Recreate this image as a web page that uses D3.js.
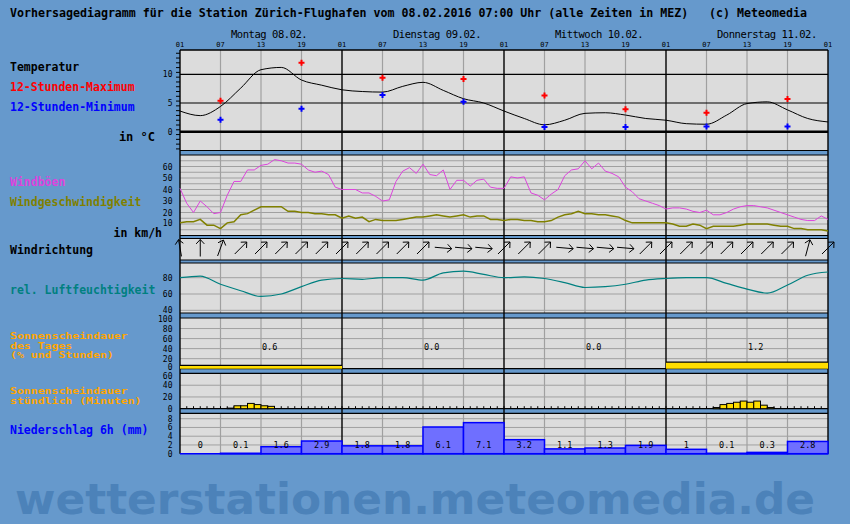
<!DOCTYPE html>
<html>
<head>
<meta charset="utf-8">
<script src="https://cdn.jsdelivr.net/npm/d3@7"></script>
<style>
  body { margin: 0; background: #6699cc; }
  svg { display: block; }
  text { font-family: "DejaVu Sans Mono", monospace; white-space: pre; }
</style>
</head>
<body>
<div id="chart"></div>
<script>
// ---- data (hours counted from 08.02. 01:00) ----
const days = ["Montag 08.02.", "Dienstag 09.02.", "Mittwoch 10.02.", "Donnerstag 11.02."];
const hourLabels = ["01", "07", "13", "19"];

// temperature every 3 hours, °C
const tempHours = d3.range(0, 97, 3);
const temp = [3.6, 2.8, 4.4, 7.6, 10.8, 11.2, 9.0, 8.1, 7.3, 7.0, 6.9, 7.9, 8.6, 7.2, 5.75, 5.0,
              3.6, 2.3, 1.2, 2.0, 3.2, 3.3, 2.9, 2.3, 2.0, 1.4, 1.3, 2.9, 4.9, 5.2, 3.8, 2.3, 1.7];

// 12-hour extremes at 07 and 19
const extremeHours = [6, 18, 30, 42, 54, 66, 78, 90];
const tempMax = [5.4, 12.0, 9.4, 9.2, 6.3, 3.9, 3.3, 5.7];
const tempMin = [2.1, 4.0, 6.4, 5.2, 0.8, 0.8, 0.9, 0.9];

// hourly wind, km/h
const windHours = d3.range(0, 97);
const gusts = [41, 28, 20, 30, 25, 19, 20, 35, 47, 47,
               57, 57, 61, 62, 66, 65, 63, 63, 62, 57,
               55, 56, 53, 42, 40, 40, 40, 37, 37, 34,
               30, 31, 47, 56, 59, 54, 62, 53, 52, 57,
               40, 48, 48, 43, 48, 49, 42, 41, 41, 51,
               50, 51, 37, 35, 31, 36, 40, 52, 57, 58,
               65, 58, 63, 56, 54, 51, 42, 38, 32, 30,
               28, 26, 23, 24, 24, 23, 21, 20, 22, 18,
               18, 20, 23, 25, 26, 26, 25, 24, 22, 20,
               18, 16, 14, 13, 13, 17, 14];
const windSpeed = [11, 12, 12, 14, 9, 9, 6, 11, 12, 18,
                   19, 22, 25, 25, 25, 25, 21, 21, 20, 20,
                   19, 19, 18, 18, 15, 17, 15, 16, 12, 14,
                   13, 13, 13, 14, 15, 16, 16, 17, 18, 17,
                   16, 17, 18, 16, 17, 17, 14, 14, 13, 14,
                   14, 13, 13, 12, 12, 13, 16, 18, 19, 21,
                   19, 19, 18, 18, 17, 16, 13, 11, 11, 11,
                   11, 11, 11, 10, 8, 8, 10, 9, 6, 8,
                   8, 8, 8, 9, 10, 10, 10, 10, 9, 8,
                   8, 6, 6, 5, 5, 5, 4];

// wind direction arrows every 3 hours (degrees the arrow points to, 0 = up)
const dirHours = d3.range(0, 97, 3);
const windDir = [-10, 0, 20, 45, 45, 45, 45, 45, 45, 45, 45, 45, 45, 95, 95, 95, 45,
                 45, 45, 95, 95, 95, 95, 45, 45, 45, 45, 45, 45, 45, 45, 15, 45];

// relative humidity every 3 hours, %
const humHours = d3.range(0, 97, 3);
const humidity = [80, 82, 72, 64, 57, 60, 69, 77, 79, 78, 80, 80, 77, 86, 88, 84,
                  80, 81, 79, 74, 68, 69, 72, 77, 79, 80, 80, 73, 66, 61, 71, 83, 87];

// sunshine per day
const sunDayHours = [0.6, 0.0, 0.0, 1.2];
const sunDayPct = [6.5, 0, 0, 13];

// sunshine per hour, minutes
const sunHours = [7, 8, 9, 10, 11, 12, 13, 79, 80, 81, 82, 83, 84, 85, 86, 87];
const sunMinutes = [1, 5, 5, 9, 7, 5, 4, 2, 7, 9, 11, 13, 11, 13, 6, 2];

// precipitation per 6 hours, mm
const precip = [0, 0.1, 1.6, 2.9, 1.8, 1.8, 6.1, 7.1, 3.2, 1.1, 1.3, 1.9, 1, 0.1, 0.3, 2.8];

// ---- layout ----
const width = 850;
const height = 524;
const left = 180;
const right = 828;
const bg = "#6699cc";
const panelFill = "#dcdcdc";
const gridGray = "#a0a0a0";

// panel boxes [top, bottom], top to bottom
const tempBox = [50, 150.5];
const windBox = [155, 235.5];
const dirBox = [238.5, 260];
const humBox = [263, 313];
const sunDayBox = [318, 368.7];
const sunHourBox = [373.3, 408.7];
const precipBox = [413.3, 453.7];
const boxes = [tempBox, windBox, dirBox, humBox, sunDayBox, sunHourBox, precipBox];

const x = d3.scaleLinear().domain([0, 96]).range([left, right]);
const yT = d3.scaleLinear().domain([0, 10]).range([131.7, 74.3]);
const yW = d3.scaleLinear().domain([0, 70]).range([235.5, 155]);
const yH = d3.scaleLinear().domain([40, 80]).range([310.3, 277.7]);
const ySd = d3.scaleLinear().domain([0, 100]).range([368.7, 318.5]);
const ySh = d3.scaleLinear().domain([0, 60]).range([408.7, 373.5]);
const yP = d3.scaleLinear().domain([0, 8]).range([453.7, 418.7]);

const svg = d3.create("svg")
    .attr("width", width)
    .attr("height", height);

svg.append("rect").attr("width", width).attr("height", height).attr("fill", bg);

// watermark
svg.append("text")
    .attr("x", 15).attr("y", 514)
    .attr("textLength", 800).attr("lengthAdjust", "spacingAndGlyphs")
    .style("font-family", "'DejaVu Sans', sans-serif")
    .style("font-weight", "bold").style("font-size", "42px")
    .attr("fill", "#4c82b9")
    .text("wetterstationen.meteomedia.de");

// title
svg.append("text")
    .attr("x", 10).attr("y", 16.5)
    .attr("textLength", 797).attr("lengthAdjust", "spacingAndGlyphs")
    .style("font-weight", "bold").style("font-size", "11.6px")
    .text("Vorhersagediagramm für die Station Zürich-Flughafen vom 08.02.2016 07:00 Uhr (alle Zeiten in MEZ)   (c) Meteomedia");

// day labels
svg.append("g").selectAll("text")
    .data(days)
    .join("text")
    .attr("x", (d, i) => x(i * 24) + 51)
    .attr("y", 37.5)
    .attr("textLength", d => d.length * 5.9)
    .style("font-size", "10.5px")
    .text(d => d);

// hour labels
svg.append("g").selectAll("text")
    .data(d3.range(0, 97, 6))
    .join("text")
    .attr("x", d => x(d))
    .attr("y", 46.5)
    .attr("text-anchor", "middle")
    .style("font-size", "7px")
    .text(d => hourLabels[(d / 6) % 4]);

// panel background
svg.append("rect")
    .attr("x", left).attr("y", tempBox[0])
    .attr("width", right - left).attr("height", precipBox[1] - tempBox[0])
    .attr("fill", panelFill);

// grey vertical grid inside each panel
const grid = svg.append("g").attr("stroke", gridGray).attr("stroke-width", 1.2);
boxes.forEach(b => {
  grid.append("g").selectAll("line")
      .data(d3.range(6, 96, 6).filter(h => h % 24 !== 0))
      .join("line")
      .attr("x1", d => x(d)).attr("x2", d => x(d))
      .attr("y1", b[0]).attr("y2", b[1]);
});

// horizontal grid lines
function hLines(values, scale, color, w) {
  svg.append("g").selectAll("line")
      .data(values)
      .join("line")
      .attr("x1", left).attr("x2", right)
      .attr("y1", d => scale(d)).attr("y2", d => scale(d))
      .attr("stroke", color).attr("stroke-width", w);
}
hLines(d3.range(5, 70, 5), yW, gridGray, 1);
hLines([40, 60, 80], yH, gridGray, 1);
hLines([20, 40, 60, 80], ySd, gridGray, 1);
hLines([20, 40], ySh, gridGray, 1);
hLines([2, 4, 6, 8], yP, gridGray, 1);
hLines([5, 10], yT, "#000", 1.2);
hLines([0], yT, "#000", 2.5);

// blue separator bands
const bands = svg.append("g");
for (let i = 0; i < boxes.length - 1; i++) {
  const top = boxes[i][1], bottom = boxes[i + 1][0];
  bands.append("rect")
      .attr("x", left).attr("y", top)
      .attr("width", right - left).attr("height", bottom - top)
      .attr("fill", bg);
  bands.append("line").attr("x1", left).attr("x2", right)
      .attr("y1", top).attr("y2", top).attr("stroke", "#000").attr("stroke-width", 1.2);
  bands.append("line").attr("x1", left).attr("x2", right)
      .attr("y1", bottom).attr("y2", bottom).attr("stroke", "#000").attr("stroke-width", 1.2);
}

// day boundaries and frame
svg.append("g").selectAll("line")
    .data([0, 24, 48, 72, 96])
    .join("line")
    .attr("x1", d => x(d)).attr("x2", d => x(d))
    .attr("y1", tempBox[0]).attr("y2", precipBox[1])
    .attr("stroke", "#000").attr("stroke-width", 1.4);
svg.append("line").attr("x1", left).attr("x2", right)
    .attr("y1", tempBox[0]).attr("y2", tempBox[0])
    .attr("stroke", "#000").attr("stroke-width", 1.4);

// left axis labels
function axisLabels(values, scale, dy) {
  svg.append("g").selectAll("text")
      .data(values)
      .join("text")
      .attr("x", 172.5)
      .attr("y", d => scale(d) + (typeof dy === "function" ? dy(d) : 3))
      .attr("text-anchor", "end")
      .style("font-size", "8px")
      .text(d => d);
}
axisLabels([0, 5, 10], yT);
axisLabels([10, 20, 30, 40, 50, 60], yW, d => d === 10 ? 2 : 3);
axisLabels([40, 60, 80], yH);
axisLabels([0, 20, 40, 60, 80, 100], ySd, d => d === 0 ? 1 : 3);
axisLabels([0, 20, 40, 60], ySh, d => d === 60 ? 5.5 : 3);
axisLabels([0, 2, 4, 6, 8], yP);

// temperature axis ticks
svg.append("g").selectAll("line")
    .data(d3.range(-3, 14.5, 5 / 6))
    .join("line")
    .attr("x1", left - 4).attr("x2", left)
    .attr("y1", d => yT(d)).attr("y2", d => yT(d))
    .attr("stroke", "#000");

// ---- temperature ----
svg.append("path")
    .datum(temp)
    .attr("fill", "none")
    .attr("stroke", "#000")
    .attr("stroke-width", 1)
    .attr("d", d3.line()
        .x((d, i) => x(tempHours[i]))
        .y(d => yT(d))
        .curve(d3.curveMonotoneX));

const marker = d3.symbol(d3.symbolCross, 20);
svg.append("g").selectAll("path")
    .data(tempMax)
    .join("path")
    .attr("transform", (d, i) => `translate(${x(extremeHours[i])},${yT(d)})`)
    .attr("d", marker)
    .attr("fill", "#ff0000");
svg.append("g").selectAll("path")
    .data(tempMin)
    .join("path")
    .attr("transform", (d, i) => `translate(${x(extremeHours[i])},${yT(d)})`)
    .attr("d", marker)
    .attr("fill", "#0000ff");

// ---- wind ----
svg.append("path")
    .datum(gusts)
    .attr("fill", "none")
    .attr("stroke", "#dd44dd")
    .attr("stroke-width", 1)
    .attr("d", d3.line().x((d, i) => x(windHours[i])).y(d => yW(d)));
svg.append("path")
    .datum(windSpeed)
    .attr("fill", "none")
    .attr("stroke", "#808000")
    .attr("stroke-width", 1.5)
    .attr("d", d3.line().x((d, i) => x(windHours[i])).y(d => yW(d)));

// ---- wind direction arrows ----
const arrowLen = 17, headLen = 6, dirMid = 248;
svg.append("g").selectAll("path")
    .data(windDir)
    .join("path")
    .attr("fill", "none")
    .attr("stroke", "#000")
    .attr("stroke-width", 1)
    .attr("d", (deg, i) => {
      const a = deg * Math.PI / 180;
      const cx = x(dirHours[i]);
      const dx = Math.sin(a), dy = -Math.cos(a);
      const tx = cx + dx * arrowLen / 2, ty = dirMid + dy * arrowLen / 2;
      const p = d3.path();
      p.moveTo(cx - dx * arrowLen / 2, dirMid - dy * arrowLen / 2);
      p.lineTo(tx, ty);
      for (const s of [-1, 1]) {
        const b = a + Math.PI + s * 0.75;
        p.moveTo(tx, ty);
        p.lineTo(tx + Math.sin(b) * headLen, ty - Math.cos(b) * headLen);
      }
      return p.toString();
    });

// ---- humidity ----
svg.append("path")
    .datum(humidity)
    .attr("fill", "none")
    .attr("stroke", "#008080")
    .attr("stroke-width", 1.2)
    .attr("d", d3.line()
        .x((d, i) => x(humHours[i]))
        .y(d => yH(d))
        .curve(d3.curveMonotoneX));

// ---- sunshine per day ----
svg.append("g").selectAll("rect")
    .data(sunDayPct)
    .join("rect")
    .attr("x", (d, i) => x(i * 24))
    .attr("width", x(24) - x(0))
    .attr("y", d => ySd(d))
    .attr("height", d => ySd(0) - ySd(d))
    .attr("fill", d => d > 0 ? "#ffdd00" : "none");
svg.append("g").selectAll("line")
    .data(sunDayPct.map((d, i) => [d, i]).filter(d => d[0] > 0))
    .join("line")
    .attr("x1", d => x(d[1] * 24)).attr("x2", d => x(d[1] * 24 + 24))
    .attr("y1", d => ySd(d[0])).attr("y2", d => ySd(d[0]))
    .attr("stroke", "#000").attr("stroke-width", 1.2);
svg.append("g").selectAll("text")
    .data(sunDayHours)
    .join("text")
    .attr("x", (d, i) => x(i * 24 + 12) + 1)
    .attr("y", 350)
    .style("font-size", "8.5px")
    .text(d => d3.format(".1f")(d));

// ---- sunshine per hour ----
svg.append("g").selectAll("line")
    .data(d3.range(1, 96))
    .join("line")
    .attr("x1", d => x(d)).attr("x2", d => x(d))
    .attr("y1", ySh(0) - 2.5).attr("y2", ySh(0))
    .attr("stroke", "#000");
svg.append("g").selectAll("rect")
    .data(sunMinutes)
    .join("rect")
    .attr("x", (d, i) => x(sunHours[i]))
    .attr("width", x(1) - x(0))
    .attr("y", d => ySh(d))
    .attr("height", d => ySh(0) - ySh(d))
    .attr("fill", "#ffdd00")
    .attr("stroke", "#000")
    .attr("stroke-width", 1);

// ---- precipitation ----
svg.append("g").selectAll("rect")
    .data(precip)
    .join("rect")
    .attr("x", (d, i) => x(i * 6))
    .attr("width", x(6) - x(0))
    .attr("y", d => yP(d))
    .attr("height", d => yP(0) - yP(d))
    .attr("fill", "#6f6fff")
    .attr("stroke", "#0000ff")
    .attr("stroke-width", 1.5);
svg.append("line")
    .attr("x1", left).attr("x2", right)
    .attr("y1", yP(0)).attr("y2", yP(0))
    .attr("stroke", "#0000ff").attr("stroke-width", 1.5);
svg.append("g").selectAll("text")
    .data(precip)
    .join("text")
    .attr("x", (d, i) => x(i * 6 + 3))
    .attr("y", 448)
    .attr("text-anchor", "middle")
    .style("font-size", "8.5px")
    .text(d => String(d));

// ---- left legend texts ----
const legend = [
  { text: "Temperatur", color: "#000", y: 71, size: 11.5 },
  { text: "12-Stunden-Maximum", color: "#ff0000", y: 91, size: 11.5 },
  { text: "12-Stunden-Minimum", color: "#0000ff", y: 111, size: 11.5 },
  { text: "Windböen", color: "#dd44dd", y: 186, size: 11.5 },
  { text: "Windgeschwindigkeit", color: "#808000", y: 206, size: 11.5 },
  { text: "Windrichtung", color: "#000", y: 254, size: 11.5 },
  { text: "rel. Luftfeuchtigkeit", color: "#008080", y: 293.5, size: 11.5 },
  { text: "Sonnenscheindauer", color: "#ffa500", y: 339, size: 9.5 },
  { text: "des Tages", color: "#ffa500", y: 348.5, size: 9.5 },
  { text: "(% und Stunden)", color: "#ffa500", y: 358, size: 9.5 },
  { text: "Sonnenscheindauer", color: "#ffa500", y: 394, size: 9.5 },
  { text: "stündlich (Minuten)", color: "#ffa500", y: 403.5, size: 9.5 },
  { text: "Niederschlag 6h (mm)", color: "#0000ff", y: 434, size: 11.5 }
];
svg.append("g").selectAll("text")
    .data(legend)
    .join("text")
    .attr("x", 10)
    .attr("y", d => d.y)
    .attr("fill", d => d.color)
    .attr("textLength", d => d.text.length * 6.92)
    .attr("lengthAdjust", "spacingAndGlyphs")
    .style("font-weight", "bold")
    .style("font-size", d => d.size + "px")
    .text(d => d.text);

// units
svg.append("text")
    .attr("x", 155).attr("y", 141)
    .attr("text-anchor", "end")
    .style("font-weight", "bold").style("font-size", "12px")
    .text("in °C");
svg.append("text")
    .attr("x", 162).attr("y", 237)
    .attr("text-anchor", "end")
    .style("font-weight", "bold").style("font-size", "11.5px")
    .text("in km/h");

d3.select("#chart").append(() => svg.node());
</script>
</body>
</html>
